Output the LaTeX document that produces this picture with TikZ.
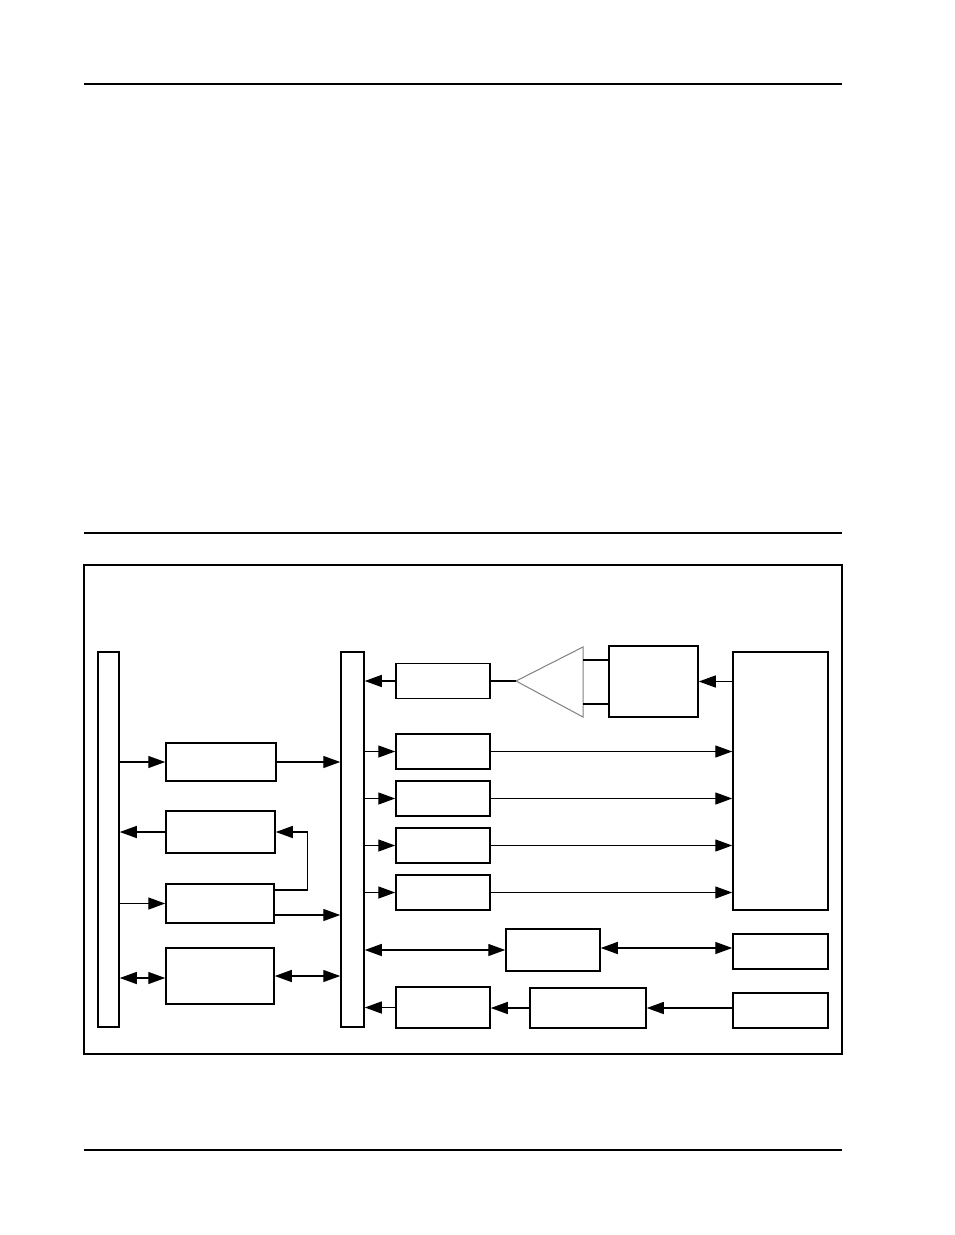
\documentclass[tikz,border=0pt]{standalone}
\usetikzlibrary{arrows.meta}

\begin{document}
\begin{tikzpicture}
    [x=0.5pt, y=-0.5pt, >={Triangle[length=8.5pt, width=6pt]},
     every node/.style={draw, rectangle, inner sep=0pt, line width=0.75pt},
     link/.style={line width=0.65pt}]

    \useasboundingbox (0,0) rectangle (954,1235);

    % page rules and frame
    \draw[line width=0.8pt] (84,84) -- (842,84);
    \draw[line width=0.8pt] (84,533) -- (842,533);
    \draw[line width=0.8pt] (84,1150) -- (842,1150);
    \draw[line width=1pt] (84,565) rectangle (842,1054);

    % buses
    \node (lbus) [minimum width=10.5pt, minimum height=187.5pt] at (108.5,839.5) {};
    \node (mbus) [minimum width=11.5pt, minimum height=187.5pt] at (352.5,839.5) {};

    % left column
    \node (b1) [minimum width=55pt, minimum height=19pt] at (221,762) {};
    \node (b2) [minimum width=54.5pt, minimum height=21pt] at (220.5,832) {};
    \node (b3) [minimum width=54pt, minimum height=19.5pt] at (220,903.5) {};
    \node (b4) [minimum width=54pt, minimum height=28pt] at (220,976) {};

    % right column
    \node (r1) [minimum width=47pt, minimum height=17.5pt] at (443,681) {};
    \node (r2) [minimum width=47pt, minimum height=17.5pt] at (443,751.5) {};
    \node (r3) [minimum width=47pt, minimum height=17.5pt] at (443,798.5) {};
    \node (r4) [minimum width=47pt, minimum height=17.5pt] at (443,845.5) {};
    \node (r5) [minimum width=47pt, minimum height=17.5pt] at (443,892.5) {};
    \node (r6) [minimum width=47pt, minimum height=20.5pt] at (443,1007.5) {};

    \node (m) [minimum width=47pt, minimum height=21pt] at (553,950) {};
    \node (c) [minimum width=58pt, minimum height=20pt] at (588,1008) {};
    \node (t) [minimum width=44.5pt, minimum height=35.5pt] at (653.5,681.5) {};

    \node (big) [minimum width=47.5pt, minimum height=129pt] at (780.5,781) {};
    \node (s1) [minimum width=47.5pt, minimum height=17.5pt] at (780.5,951.5) {};
    \node (s2) [minimum width=47.5pt, minimum height=17.5pt] at (780.5,1010.5) {};

    % amplifier
    \coordinate (amptip) at (516,681);
    \coordinate (ampa) at (583,660);
    \coordinate (ampb) at (583,704);
    \draw[gray, line width=0.5pt] (amptip) -- (583,647) -- (583,717) -- cycle;

    % left side links
    \draw[link, ->] (lbus.east |- b1.west) -- (b1.west);
    \draw[link, ->] (b1.east) -- (b1.east -| mbus.west);
    \draw[link, ->] (b2.west) -- (b2.west -| lbus.east);
    \draw[link, ->] ([yshift=6.75pt]b3.east) -| ([xshift=16pt]b2.east) -- (b2.east);
    \draw[link, ->] (lbus.east |- b3.west) -- (b3.west);
    \draw[link, ->] ([yshift=-5.75pt]b3.east) -- ([yshift=-5.75pt]b3.east -| mbus.west);
    \draw[link, <->] ([yshift=-1pt]lbus.east |- b4.west) -- ([yshift=-1pt]b4.west);
    \draw[link, <->] (b4.east) -- (b4.east -| mbus.west);

    % right side links
    \draw[link, ->] (r1.west) -- (r1.west -| mbus.east);
    \draw[link] (r1.east) -- (amptip);
    \draw[link] (ampa) -- (ampa -| t.west);
    \draw[link] (ampb) -- (ampb -| t.west);
    \draw[link, ->] (big.west |- t.east) -- (t.east);

    \draw[link, ->] (mbus.east |- r2.west) -- (r2.west);
    \draw[link, ->] (mbus.east |- r3.west) -- (r3.west);
    \draw[link, ->] (mbus.east |- r4.west) -- (r4.west);
    \draw[link, ->] (mbus.east |- r5.west) -- (r5.west);
    \draw[link, ->] (r2.east) -- (r2.east -| big.west);
    \draw[link, ->] (r3.east) -- (r3.east -| big.west);
    \draw[link, ->] (r4.east) -- (r4.east -| big.west);
    \draw[link, ->] (r5.east) -- (r5.east -| big.west);

    \draw[link, <->] (mbus.east |- m.west) -- (m.west);
    \draw[link, <->] ([yshift=1pt]m.east) -- ([yshift=1pt]m.east -| s1.west);

    \draw[link, ->] (r6.west) -- (r6.west -| mbus.east);
    \draw[link, ->] (c.west) -- (c.west -| r6.east);
    \draw[link, ->] (c.east -| s2.west) -- (c.east);
  \end{tikzpicture}
\end{document}
